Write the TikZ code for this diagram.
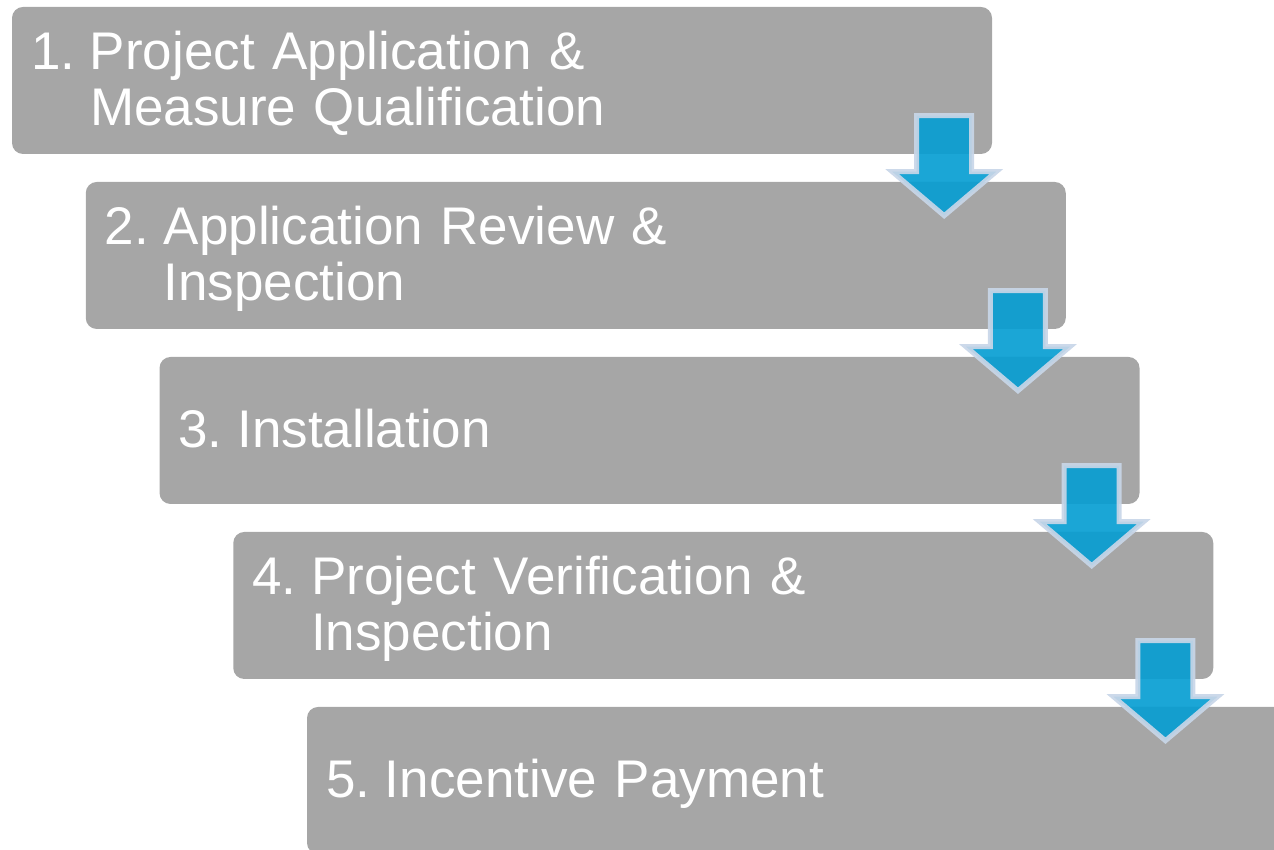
\documentclass[tikz,border=0pt]{standalone}
\usepackage{fontspec}
\setmainfont{Liberation Sans}
\definecolor{stepgray}{RGB}{166,166,166}
\definecolor{flowblue}{RGB}{8,158,210}
\definecolor{flowedge}{RGB}{200,214,232}
\newcommand{\sline}{\rule[-12pt]{0pt}{58pt}}
\newcommand{\stepnum}[1]{\makebox[59pt][l]{#1}}

\begin{document}
\begin{tikzpicture}[x=1pt,y=1pt,
				stage/.style={fill=stepgray, rounded corners=11pt, minimum width=980pt, minimum height=147pt,
					inner xsep=19pt, inner ysep=0pt, text width=942pt, align=left, text=white,
					font={\fontsize{53}{56}\selectfont\lineskiplimit=-100pt}},
				downarrow/.style={fill=flowblue, fill opacity=0.92, draw=flowedge, draw opacity=0.92,
					line width=5pt, miter limit=4}]
			\useasboundingbox (0,0) rectangle (1274,850);
			\clip (0,0) rectangle (1274,850);
			\node [stage] (b1) at (502,769.5) {\stepnum{1.}Project Application \&\sline\\\hspace*{59pt}Measure Qualification\sline};
			\node [stage] (b2) at (575.75,594.5) {\stepnum{2.}Application Review \&\sline\\\hspace*{59pt}Inspection\sline};
			\node [stage] (b3) at (649.5,419.5) {\stepnum{3.}Installation\sline};
			\node [stage] (b4) at (723.25,244.5) {\stepnum{4.}Project Verification \&\sline\\\hspace*{59pt}Inspection\sline};
			\node [stage] (b5) at (797,69.5) {\stepnum{5.}Incentive Payment\sline};
			% arrows between the stages
			\foreach \i in {1,...,4}
				\draw [downarrow] ([shift={(-75.5,38.5)}]b\i.south east) -- ++(55,0) -- ++(0,-56)
					-- ++(24.5,0) -- ++(-52,-44) -- ++(-52,44) -- ++(24.5,0) -- cycle;
		\end{tikzpicture}
\end{document}
